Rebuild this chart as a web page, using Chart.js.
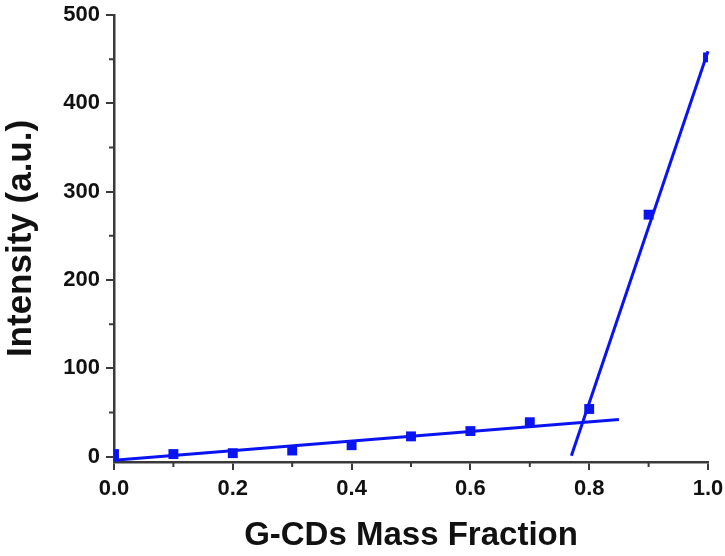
<!DOCTYPE html>
<html>
<head>
<meta charset="utf-8">
<script src="https://cdn.jsdelivr.net/npm/chart.js@4"></script>
<style>
  html, body { margin: 0; padding: 0; background: #fff; }
  #wrap { width: 725px; height: 556px; }
</style>
</head>
<body>
<div id="wrap"><canvas id="myChart"></canvas></div>
<script>
// measured points
const massFraction = [0.0, 0.1, 0.2, 0.3, 0.4, 0.5, 0.6, 0.7, 0.8, 0.9, 1.0];
const intensity = [3, 3, 4, 7, 13, 23, 29, 39, 54, 274, 452];

// fitted lines (end points)
const fitLowX = [0.0, 0.85];
const fitLowY = [-4, 42];
const fitHighX = [0.77, 1.0];
const fitHighY = [1, 459];

// ticks
const xTicks = [0.0, 0.2, 0.4, 0.6, 0.8, 1.0];
const xMinor = [0.1, 0.3, 0.5, 0.7, 0.9];
const yTicks = [0, 100, 200, 300, 400, 500];
const yMinor = [50, 150, 250, 350, 450];

const blue = "#0a14f0";
const axisColor = "#3a3a3a";
const font = "'Liberation Sans', Arial, sans-serif";

const minorTicks = {
  id: "minorTicks",
  afterDraw(chart) {
    const { ctx, chartArea, scales } = chart;
    ctx.save();
    ctx.strokeStyle = axisColor;
    ctx.lineWidth = 2;
    ctx.beginPath();
    xMinor.forEach(v => {
      const px = scales.x.getPixelForValue(v);
      ctx.moveTo(px, chartArea.bottom);
      ctx.lineTo(px, chartArea.bottom + 5);
    });
    yMinor.forEach(v => {
      const py = scales.y.getPixelForValue(v);
      ctx.moveTo(chartArea.left, py);
      ctx.lineTo(chartArea.left - 5, py);
    });
    ctx.stroke();
    ctx.restore();
  }
};

const toPts = (xs, ys) => xs.map((x, i) => ({ x: x, y: ys[i] }));

new Chart(document.getElementById("myChart"), {
  type: "scatter",
  data: {
    datasets: [
      {
        label: "Intensity",
        data: toPts(massFraction, intensity),
        pointStyle: "rect",
        pointRadius: 7,
        backgroundColor: blue,
        borderColor: blue,
        borderWidth: 0,
        clip: 0,
      },
      {
        label: "Fit low",
        type: "line",
        data: toPts(fitLowX, fitLowY),
        borderColor: blue,
        borderWidth: 3,
        pointRadius: 0,
        fill: false,
        clip: false,
      },
      {
        label: "Fit high",
        type: "line",
        data: toPts(fitHighX, fitHighY),
        borderColor: blue,
        borderWidth: 3,
        pointRadius: 0,
        fill: false,
        clip: false,
      }
    ]
  },
  options: {
    responsive: true,
    maintainAspectRatio: false,
    animation: false,
    layout: { padding: { top: 15, right: 17, left: 0, bottom: 0 } },
    plugins: {
      legend: { display: false },
      tooltip: { enabled: false }
    },
    scales: {
      x: {
        type: "linear",
        min: 0,
        max: 1.0,
        afterBuildTicks: s => { s.ticks = xTicks.map(v => ({ value: v })); },
        afterFit: s => { s.height = 94; s.paddingRight = 0; s.paddingLeft = 0; },
        border: { color: axisColor, width: 2.5 },
        grid: { drawOnChartArea: false, color: axisColor, tickLength: 8, lineWidth: 2 },
        ticks: {
          color: "#111",
          padding: 6,
          maxRotation: 0,
          font: { family: font, size: 22, weight: "bold" },
          callback: v => v.toFixed(1)
        },
        title: {
          display: true,
          text: "G-CDs Mass Fraction",
          color: "#111",
          padding: { top: 16, bottom: 0 },
          font: { family: font, size: 33, weight: "bold" }
        }
      },
      y: {
        type: "linear",
        min: -6,
        max: 500,
        afterBuildTicks: s => { s.ticks = yTicks.map(v => ({ value: v })); },
        afterFit: s => { s.width = 114; s.paddingTop = 0; s.paddingBottom = 0; },
        border: { color: axisColor, width: 2.5 },
        grid: { drawOnChartArea: false, color: axisColor, tickLength: 8, lineWidth: 2 },
        ticks: {
          color: "#111",
          padding: 6,
          font: { family: font, size: 22, weight: "bold" }
        },
        title: {
          display: true,
          text: "Intensity (a.u.)",
          color: "#111",
          padding: { top: 0, bottom: 10 },
          font: { family: font, size: 35, weight: "bold" }
        }
      }
    }
  },
  plugins: [minorTicks]
});
</script>
</body>
</html>
